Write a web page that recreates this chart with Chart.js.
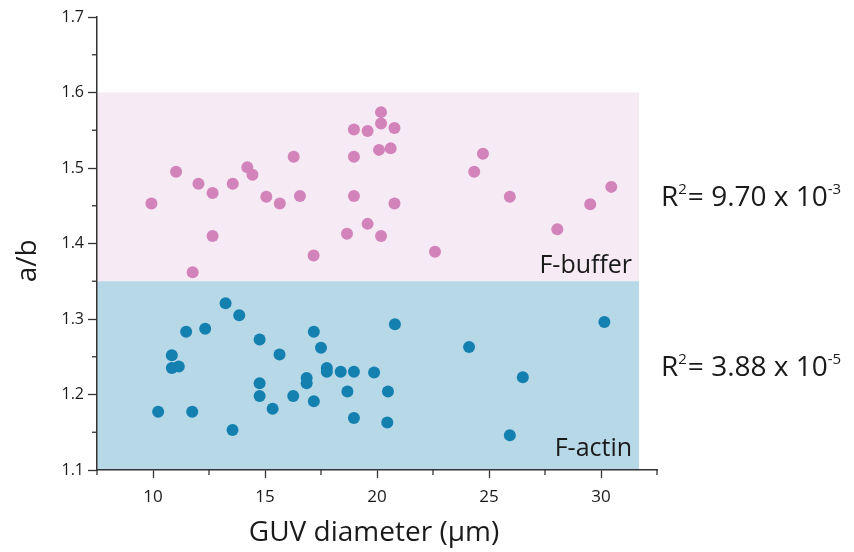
<!DOCTYPE html>
<html>
<head>
<meta charset="utf-8">
<script src="https://cdn.jsdelivr.net/npm/chart.js@4/dist/chart.umd.min.js"></script>
<style>
  html, body { margin: 0; padding: 0; background: #fff; }
  #wrap { position: relative; width: 854px; height: 552px; }
</style>
</head>
<body>
<div id="wrap"><canvas id="chart" width="854" height="552"></canvas></div>
<script>
// F-buffer GUVs (pink)
const bufferX = [9.93, 11.03, 12.03, 12.66, 12.66, 11.77, 13.56, 14.21, 14.44, 15.06, 15.66, 16.28,
  16.56, 17.17, 18.66, 18.97, 18.97, 18.97, 19.58, 19.58, 20.18, 20.18, 20.09, 20.18, 20.78,
  20.61, 20.78, 22.59, 24.73, 24.34, 25.93, 28.05, 29.52, 30.46];
const bufferY = [1.453, 1.495, 1.479, 1.467, 1.410, 1.362, 1.479, 1.501, 1.491, 1.462, 1.453, 1.515,
  1.463, 1.384, 1.413, 1.551, 1.515, 1.463, 1.549, 1.426, 1.574, 1.559, 1.524, 1.410, 1.553,
  1.526, 1.453, 1.389, 1.519, 1.495, 1.462, 1.419, 1.452, 1.475];

// F-actin GUVs (blue)
const actinX = [10.23, 10.84, 10.84, 11.15, 11.48, 11.75, 12.33, 13.24, 13.55, 13.85, 14.76, 14.76,
  14.76, 15.34, 15.65, 16.26, 16.86, 16.86, 17.18, 17.18, 17.5, 17.76, 17.76, 18.38, 18.97,
  18.68, 18.97, 19.87, 20.49, 20.46, 20.8, 24.11, 26.51, 25.93, 30.15];
const actinY = [1.177, 1.252, 1.235, 1.237, 1.283, 1.177, 1.287, 1.321, 1.153, 1.305, 1.273, 1.215,
  1.198, 1.181, 1.253, 1.198, 1.222, 1.215, 1.283, 1.191, 1.262, 1.235, 1.230, 1.230, 1.230,
  1.204, 1.169, 1.229, 1.204, 1.163, 1.293, 1.263, 1.223, 1.146, 1.296];

// shaded bands: [xFrom, xTo], [yFrom, yTo]
const bandX = [7.5, 31.7];
const bufferBand = [1.35, 1.6];
const actinBand = [1.1, 1.35];

const bandLabels = ['F-buffer', 'F-actin'];
const r2Mantissa = ['9.70', '3.88'];
const r2Exponent = ['-3', '-5'];

const xTitle = 'GUV diameter (\u00b5m)';
const yTitle = 'a/b';

const FONT = "'Open Sans', sans-serif";
const INK = '#1a1a1a';

const toPoints = (xs, ys) => xs.map((x, i) => ({ x: x, y: ys[i] }));

// bands behind everything
const bandsPlugin = {
  id: 'bands',
  beforeDraw(chart) {
    const { ctx, scales: { x, y } } = chart;
    const fillBand = (yr, color) => {
      const l = x.getPixelForValue(bandX[0]);
      const r = x.getPixelForValue(bandX[1]);
      const t = y.getPixelForValue(yr[1]);
      const b = y.getPixelForValue(yr[0]);
      ctx.save();
      ctx.fillStyle = color;
      ctx.fillRect(l, t, r - l, b - t);
      ctx.restore();
    };
    fillBand(bufferBand, '#f6eaf4');
    fillBand(actinBand, '#b7d8e7');
  }
};

// minor ticks, titles and annotations
const extrasPlugin = {
  id: 'extras',
  afterDraw(chart) {
    const { ctx, scales: { x, y } } = chart;
    ctx.save();
    ctx.strokeStyle = '#333';
    ctx.lineWidth = 1.3;
    x.ticks.forEach(t => {
      if (Math.round(t.value * 10) % 50 !== 0) {
        const px = x.getPixelForValue(t.value);
        ctx.beginPath();
        ctx.moveTo(px, x.top);
        ctx.lineTo(px, x.top + 5);
        ctx.stroke();
      }
    });
    y.ticks.forEach(t => {
      if (Math.round(t.value * 100) % 10 !== 0) {
        const py = y.getPixelForValue(t.value);
        ctx.beginPath();
        ctx.moveTo(y.right, py);
        ctx.lineTo(y.right - 5, py);
        ctx.stroke();
      }
    });

    ctx.fillStyle = INK;
    // axis titles
    ctx.font = '28px ' + FONT;
    ctx.textAlign = 'center';
    ctx.textBaseline = 'alphabetic';
    ctx.fillText(xTitle, (x.left + x.right) / 2 - 3, 541);
    ctx.save();
    ctx.translate(36, y.getPixelForValue(1.377));
    ctx.rotate(-Math.PI / 2);
    ctx.fillText(yTitle, 0, 0);
    ctx.restore();

    // band labels
    ctx.font = '25px ' + FONT;
    ctx.textAlign = 'right';
    const lx = x.getPixelForValue(bandX[1]) - 7;
    ctx.fillText(bandLabels[0], lx, y.getPixelForValue(bufferBand[0]) - 8);
    ctx.fillText(bandLabels[1], lx, y.getPixelForValue(actinBand[0]) - 14);

    // R^2 annotations
    const drawR2 = (i, baseY) => {
      let cx = 661;
      ctx.textAlign = 'left';
      ctx.font = '28px ' + FONT;
      ctx.fillText('R', cx, baseY);
      cx += ctx.measureText('R').width;
      ctx.font = '15px ' + FONT;
      ctx.fillText('2', cx, baseY - 12);
      cx += ctx.measureText('2').width + 1;
      ctx.font = '28px ' + FONT;
      const main = '= ' + r2Mantissa[i] + ' x 10';
      ctx.fillText(main, cx, baseY);
      cx += ctx.measureText(main).width;
      ctx.font = '15px ' + FONT;
      ctx.fillText(r2Exponent[i], cx, baseY - 12);
    };
    drawR2(0, 206);
    drawR2(1, 376);
    ctx.restore();
  }
};

Chart.defaults.font.family = FONT;
Chart.defaults.color = INK;

new Chart(document.getElementById('chart'), {
  type: 'scatter',
  data: {
    datasets: [
      {
        label: bandLabels[0],
        data: toPoints(bufferX, bufferY),
        backgroundColor: '#d283ba',
        borderWidth: 0,
        pointRadius: 6,
      },
      {
        label: bandLabels[1],
        data: toPoints(actinX, actinY),
        backgroundColor: '#1380b0',
        borderWidth: 0,
        pointRadius: 6,
      },
    ],
  },
  options: {
    responsive: false,
    animation: false,
    devicePixelRatio: 1,
    layout: { padding: { top: 17, right: 197, left: 0, bottom: 0 } },
    plugins: { legend: { display: false }, tooltip: { enabled: false } },
    scales: {
      x: {
        type: 'linear',
        min: 7.5,
        max: 32.5,
        afterFit: (scale) => { scale.height = 82; },
        border: { display: true, color: '#333', width: 1.5 },
        grid: {
          drawOnChartArea: false,
          tickLength: 8,
          tickWidth: 1.3,
          tickColor: (c) => (c.tick && Math.round(c.tick.value * 10) % 50 === 0 ? '#333' : 'transparent'),
        },
        ticks: {
          stepSize: 2.5,
          padding: 9,
          maxRotation: 0,
          autoSkip: false,
          font: { size: 17 },
          color: INK,
          callback: (v) => (Math.round(v * 10) % 50 === 0 ? String(v) : ''),
        },
      },
      y: {
        type: 'linear',
        min: 1.1,
        max: 1.7,
        afterFit: (scale) => { scale.width = 97; },
        border: { display: true, color: '#333', width: 1.5 },
        grid: {
          drawOnChartArea: false,
          tickLength: 9,
          tickWidth: 1.3,
          tickColor: (c) => (c.tick && Math.round(c.tick.value * 100) % 10 === 0 ? '#333' : 'transparent'),
        },
        ticks: {
          stepSize: 0.05,
          padding: 4,
          autoSkip: false,
          font: { size: 16 },
          color: INK,
          callback: (v) => (Math.round(v * 100) % 10 === 0 ? v.toFixed(1) : ''),
        },
      },
    },
  },
  plugins: [bandsPlugin, extrasPlugin],
});
</script>
</body>
</html>
